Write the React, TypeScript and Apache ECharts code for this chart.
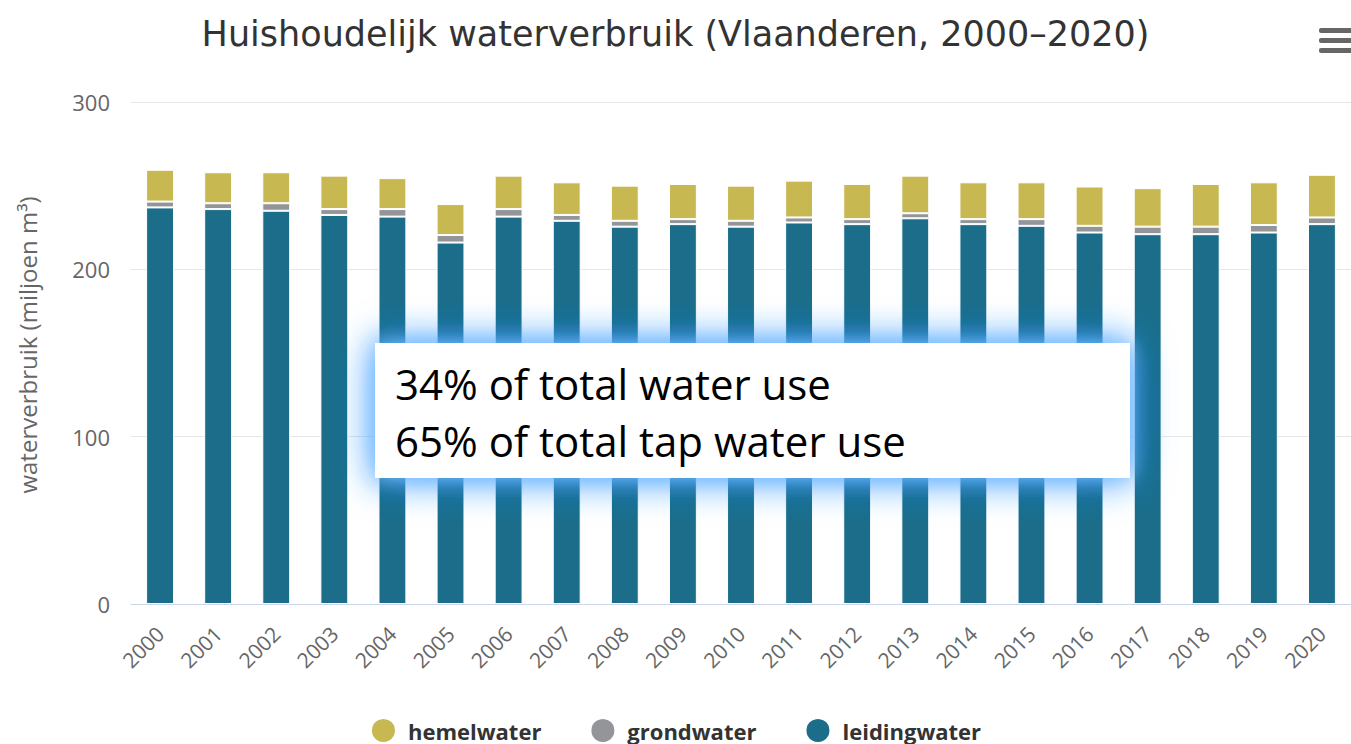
import React, { useEffect, useRef } from "react";
import * as echarts from "echarts";

const years = ["2000","2001","2002","2003","2004","2005","2006","2007","2008","2009","2010","2011","2012","2013","2014","2015","2016","2017","2018","2019","2020"];
const leidingwater = [237, 236, 235, 232.5, 231.5, 216, 231.5, 229, 225.5, 227, 225.5, 228, 227, 230.5, 227, 226, 222, 221, 221, 222, 227];
const grondwater = [3.5, 3.5, 4.5, 3.5, 4.5, 4.5, 4.5, 3.5, 3.5, 3, 3.5, 3, 3, 3, 3, 4, 4, 4.5, 4.5, 4.5, 4];
const hemelwater = [19, 18.5, 18.5, 20, 18.5, 18.5, 20, 19.5, 21, 21, 21, 22, 21, 22.5, 22, 22, 23.5, 23, 25.5, 25.5, 25.5];
const yTicks = { min: 0, max: 300, interval: 100 };
const titleText = "Huishoudelijk waterverbruik (Vlaanderen, 2000–2020)";
const yName = "waterverbruik (miljoen m³)";
const noteLines = ["34% of total water use", "65% of total tap water use"];

const COLORS = { hemel: "#c8b852", grond: "#939598", leiding: "#1b6d8a" };

export default function App() {
  const ref = useRef<HTMLDivElement>(null);
  useEffect(() => {
    if (!ref.current) return;
    const chart = echarts.init(ref.current, undefined, { renderer: "svg" });
    const barStyle = (c: string) => ({ color: c, borderColor: "#ffffff", borderWidth: 1 });
    const glowRect = (blur: number, color: string) => ({
      type: "rect",
      shape: { x: 375, y: 343, width: 755, height: 135 },
      style: { fill: "#ffffff", shadowBlur: blur, shadowColor: color },
      z: 100,
    });
    chart.setOption({
      animation: false,
      backgroundColor: "#ffffff",
      title: {
        text: titleText,
        left: "center",
        top: 11,
        textStyle: { fontFamily: "DejaVu Sans", fontSize: 35, fontWeight: "normal", color: "#333333" },
      },
      legend: {
        top: 712,
        left: "center",
        icon: "circle",
        itemWidth: 25,
        itemHeight: 25,
        itemGap: 48,
        data: ["hemelwater", "grondwater", "leidingwater"],
        textStyle: { fontFamily: "Open Sans", fontSize: 22, fontWeight: "bold", color: "#333333", padding: [0, 0, 0, 7] },
      },
      grid: { left: 131, right: -8, top: 102, bottom: 140 },
      xAxis: {
        type: "category",
        data: years,
        axisLine: { lineStyle: { color: "#ccd6eb" } },
        axisTick: { show: false },
        axisLabel: { rotate: 45, fontFamily: "Open Sans", fontSize: 21, color: "#666666", margin: 26 },
      },
      yAxis: {
        type: "value",
        min: yTicks.min,
        max: yTicks.max,
        interval: yTicks.interval,
        name: yName,
        nameLocation: "middle",
        nameGap: 92,
        nameTextStyle: { fontFamily: "Open Sans", fontSize: 24, color: "#666666", padding: [0, 0, 0, 16] },
        axisLabel: { fontFamily: "Open Sans", fontSize: 22, color: "#666666", margin: 21 },
        splitLine: { lineStyle: { color: "#e6e6e6" } },
      },
      series: [
        { name: "leidingwater", type: "bar", stack: "t", data: leidingwater, barWidth: "48%", itemStyle: barStyle(COLORS.leiding) },
        { name: "grondwater", type: "bar", stack: "t", data: grondwater, barWidth: "48%", itemStyle: barStyle(COLORS.grond) },
        { name: "hemelwater", type: "bar", stack: "t", data: hemelwater, barWidth: "48%", itemStyle: barStyle(COLORS.hemel) },
      ],
      color: [COLORS.leiding, COLORS.grond, COLORS.hemel],
      graphic: [
        glowRect(40, "rgba(30,140,255,1)"),
        glowRect(20, "rgba(140,200,255,1)"),
        {
          type: "text",
          x: 395,
          y: 383,
          style: { text: noteLines[0], fill: "#000000", fontFamily: "Open Sans", fontSize: 42, verticalAlign: "middle" },
          z: 101,
        },
        {
          type: "text",
          x: 395,
          y: 440,
          style: { text: noteLines[1], fill: "#000000", fontFamily: "Open Sans", fontSize: 42, verticalAlign: "middle" },
          z: 101,
        },
        { type: "rect", shape: { x: 1319, y: 28, width: 36, height: 5, r: 2 }, style: { fill: "#666666" }, z: 100 },
        { type: "rect", shape: { x: 1319, y: 38, width: 36, height: 5, r: 2 }, style: { fill: "#666666" }, z: 100 },
        { type: "rect", shape: { x: 1319, y: 48, width: 36, height: 5, r: 2 }, style: { fill: "#666666" }, z: 100 },
      ],
    });
    return () => chart.dispose();
  }, []);
  return <div ref={ref} style={{ position: "fixed", left: 0, top: 0, width: 1351, height: 744 }} />;
}
